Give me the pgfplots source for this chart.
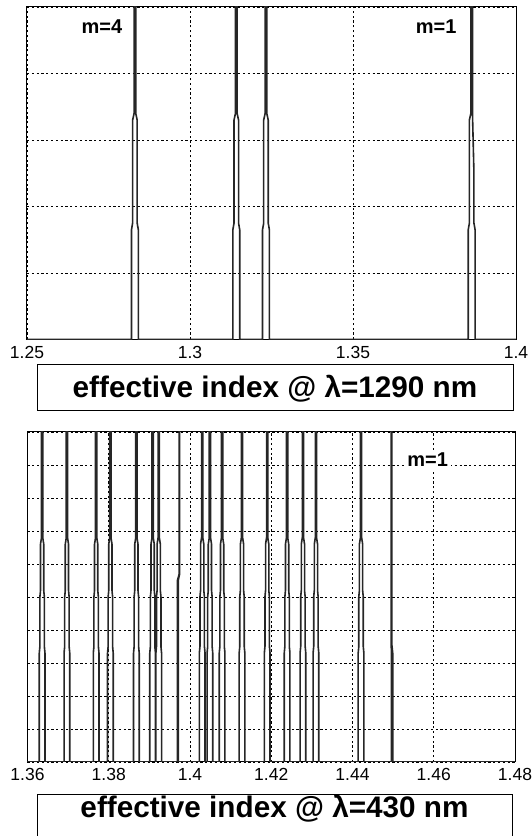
\documentclass[border=0pt]{standalone}
\usepackage{pgfplots}
\pgfplotsset{compat=1.18}
\usepackage{fontspec}
\setmainfont{Liberation Sans}
\begin{document}
\begin{tikzpicture}
\useasboundingbox (0pt,0pt) rectangle (532pt,836pt);
\pgfplotsset{
  panel/.style={
    scale only axis, anchor=south west,
    axis line style={black, line width=1pt},
    grid=major,
    major grid style={black, line width=0.7pt, dash pattern=on 2.2pt off 2.6pt},
    yticklabels={}, major tick length=0pt,
    tick label style={font=\fontsize{17.5}{18}\selectfont},
    xticklabel style={yshift=-3pt},
    /pgf/number format/assume math mode=true,
    ymin=0, ymax=1, clip=true,
  },
  peak/.style={black!85, line width=1.6pt, line join=miter},
}
% ---------------- top panel ----------------
\begin{axis}[panel, at={(27pt,496.5pt)}, width=489pt, height=332.5pt,
  xmin=1.25, xmax=1.4,
  xtick={1.25,1.3,1.35,1.4}, xticklabels={1.25,1.3,1.35,1.4},
  ytick={0,0.2,0.4,0.6,0.8,1}]
\addplot[peak] coordinates {
 (1.25,0)
 (1.28205,0) (1.28205,0.33) (1.2824,0.35) (1.2824,0.66) (1.28285,0.68) (1.28285,1.05)
 (1.28335,1.05) (1.28335,0.68) (1.2838,0.66) (1.2838,0.35) (1.28415,0.33) (1.28415,0)
 (1.31315,0) (1.31315,0.33) (1.3135,0.35) (1.3135,0.66) (1.31395,0.68) (1.31395,1.05)
 (1.31445,1.05) (1.31445,0.68) (1.3149,0.66) (1.3149,0.35) (1.31525,0.33) (1.31525,0)
 (1.32225,0) (1.32225,0.33) (1.3226,0.35) (1.3226,0.66) (1.32305,0.68) (1.32305,1.05)
 (1.32355,1.05) (1.32355,0.68) (1.324,0.66) (1.324,0.35) (1.32435,0.33) (1.32435,0)
 (1.38535,0) (1.38535,0.33) (1.3857,0.35) (1.3857,0.66) (1.38615,0.68) (1.38615,1.05)
 (1.38665,1.05) (1.38665,0.68) (1.3871,0.5) (1.3871,0.35) (1.38745,0.33) (1.38745,0)
 (1.4,0)
};
\node[font=\fontsize{20}{20}\selectfont\bfseries, inner sep=1pt] at (axis cs:1.273,0.94) {m=4};
\node[font=\fontsize{20}{20}\selectfont\bfseries, inner sep=1pt] at (axis cs:1.3755,0.94) {m=1};
\end{axis}
\draw[line width=1pt] (37pt,425pt) rectangle (513pt,471pt);
\node[anchor=base, inner sep=0pt, font=\fontsize{29.7}{30}\selectfont\bfseries] at (275pt,438pt) {effective index @ λ=1290 nm};
% ---------------- bottom panel ----------------
\begin{axis}[panel, at={(27.5pt,74pt)}, width=487.5pt, height=330pt,
  xmin=1.36, xmax=1.48,
  xtick={1.36,1.38,1.4,1.42,1.44,1.46,1.48}, xticklabels={1.36,1.38,1.4,1.42,1.44,1.46,1.48},
  ytick={0,0.1,0.2,0.3,0.4,0.5,0.6,0.7,0.8,0.9,1}]
\addplot[peak] coordinates {
 (1.36,0)
 (1.3629,0)(1.3629,.33)(1.36305,.35)(1.36305,.5)(1.3632,.52)(1.3632,.66)(1.36345,.68)(1.36345,1.05)(1.36375,1.05)(1.36375,.68)(1.364,.66)(1.364,.52)(1.36415,.5)(1.36415,.35)(1.3643,.33)(1.3643,0)
 (1.3690,0)(1.3690,.33)(1.36915,.35)(1.36915,.5)(1.3693,.52)(1.3693,.66)(1.36955,.68)(1.36955,1.05)(1.36985,1.05)(1.36985,.68)(1.3701,.66)(1.3701,.52)(1.37025,.5)(1.37025,.35)(1.3704,.33)(1.3704,0)
 (1.3762,0)(1.3762,.33)(1.37635,.35)(1.37635,.5)(1.3765,.52)(1.3765,.66)(1.37675,.68)(1.37675,1.05)(1.37705,1.05)(1.37705,.68)(1.3773,.66)(1.3773,.52)(1.37745,.5)(1.37745,.35)(1.3776,.33)(1.3776,0)
 (1.3797,0)(1.3797,.33)(1.37985,.35)(1.37985,.5)(1.3800,.52)(1.3800,.66)(1.38025,.68)(1.38025,1.05)(1.38055,1.05)(1.38055,.68)(1.3808,.66)(1.3808,.52)(1.38095,.5)(1.38095,.35)(1.3811,.33)(1.3811,0)
 (1.3861,0)(1.3861,.33)(1.38625,.35)(1.38625,.5)(1.3864,.52)(1.3864,.66)(1.38665,.68)(1.38665,1.05)(1.38695,1.05)(1.38695,.68)(1.3872,.66)(1.3872,.52)(1.38735,.5)(1.38735,.35)(1.3875,.33)(1.3875,0)
 (1.3901,0)(1.3901,.33)(1.39025,.35)(1.39025,.5)(1.3904,.52)(1.3904,.66)(1.39065,.68)(1.39065,1.05)(1.39095,1.05)(1.39095,.68)(1.3912,.66)(1.3912,.52)(1.39135,.5)(1.39135,.35)(1.3915,.33)(1.3915,0)
 (1.3916,0)(1.3916,.33)(1.39175,.35)(1.39175,.5)(1.3919,.52)(1.3919,.66)(1.39215,.68)(1.39215,1.05)(1.39245,1.05)(1.39245,.68)(1.3927,.66)(1.3927,.52)(1.39285,.5)(1.39285,.35)(1.3930,.33)(1.3930,0)
 (1.3969,0)(1.3969,.55)(1.39735,.57)(1.39735,1.05)(1.39745,1.05)(1.39745,.57)(1.3971,.55)(1.3971,0)
 (1.4023,0)(1.4023,.33)(1.40245,.35)(1.40245,.5)(1.4026,.52)(1.4026,.66)(1.40285,.68)(1.40285,1.05)(1.40315,1.05)(1.40315,.68)(1.4034,.66)(1.4034,.52)(1.40355,.5)(1.40355,.35)(1.4037,.33)(1.4037,0)
 (1.4042,0)(1.4042,.33)(1.40435,.35)(1.40435,.5)(1.4045,.52)(1.4045,.66)(1.40475,.68)(1.40475,1.05)(1.40505,1.05)(1.40505,.68)(1.4053,.66)(1.4053,.52)(1.40545,.5)(1.40545,.35)(1.4056,.33)(1.4056,0)
 (1.4072,0)(1.4072,.33)(1.40735,.35)(1.40735,.5)(1.4075,.52)(1.4075,.66)(1.40775,.68)(1.40775,1.05)(1.40805,1.05)(1.40805,.68)(1.4083,.66)(1.4083,.52)(1.40845,.5)(1.40845,.35)(1.4086,.33)(1.4086,0)
 (1.4121,0)(1.4121,.33)(1.41225,.35)(1.41225,.5)(1.4124,.52)(1.4124,.66)(1.41265,.68)(1.41265,1.05)(1.41295,1.05)(1.41295,.68)(1.4132,.66)(1.4132,.52)(1.41335,.5)(1.41335,.35)(1.4135,.33)(1.4135,0)
 (1.4183,0)(1.4183,.33)(1.41845,.35)(1.41845,.5)(1.4186,.52)(1.4186,.66)(1.41885,.68)(1.41885,1.05)(1.41915,1.05)(1.41915,.68)(1.4194,.66)(1.4194,.52)(1.41955,.5)(1.41955,.35)(1.4197,.33)(1.4197,0)
 (1.4232,0)(1.4232,.33)(1.42335,.35)(1.42335,.5)(1.4235,.52)(1.4235,.66)(1.42375,.68)(1.42375,1.05)(1.42405,1.05)(1.42405,.68)(1.4243,.66)(1.4243,.52)(1.42445,.5)(1.42445,.35)(1.4246,.33)(1.4246,0)
 (1.4271,0)(1.4271,.33)(1.42725,.35)(1.42725,.5)(1.4274,.52)(1.4274,.66)(1.42765,.68)(1.42765,1.05)(1.42795,1.05)(1.42795,.68)(1.4282,.66)(1.4282,.52)(1.42835,.5)(1.42835,.35)(1.4285,.33)(1.4285,0)
 (1.4303,0)(1.4303,.33)(1.43045,.35)(1.43045,.5)(1.4306,.52)(1.4306,.66)(1.43085,.68)(1.43085,1.05)(1.43115,1.05)(1.43115,.68)(1.4314,.66)(1.4314,.52)(1.43155,.5)(1.43155,.35)(1.4317,.33)(1.4317,0)
 (1.4414,0)(1.4414,.33)(1.44155,.35)(1.44155,.5)(1.4417,.52)(1.4417,.66)(1.44195,.68)(1.44195,1.05)(1.44225,1.05)(1.44225,.68)(1.4425,.66)(1.4425,.52)(1.44265,.5)(1.44265,.35)(1.4428,.33)(1.4428,0)
 (1.4496,0)(1.4496,.33)(1.4495,.36)(1.4495,1.05)(1.44965,1.05)(1.44965,.36)(1.4499,.33)(1.4499,0)
 (1.48,0)
};
\node[font=\fontsize{20}{20}\selectfont\bfseries, fill=white, inner sep=3pt] at (axis cs:1.4585,0.915) {m=1};
\end{axis}
\draw[line width=1pt] (37pt,0pt) -- (37pt,41pt) -- (512pt,41pt) -- (512pt,0pt);
\node[anchor=base, inner sep=0pt, font=\fontsize{29.7}{30}\selectfont\bfseries] at (274.5pt,18pt) {effective index @ λ=430 nm};
\end{tikzpicture}
\end{document}
